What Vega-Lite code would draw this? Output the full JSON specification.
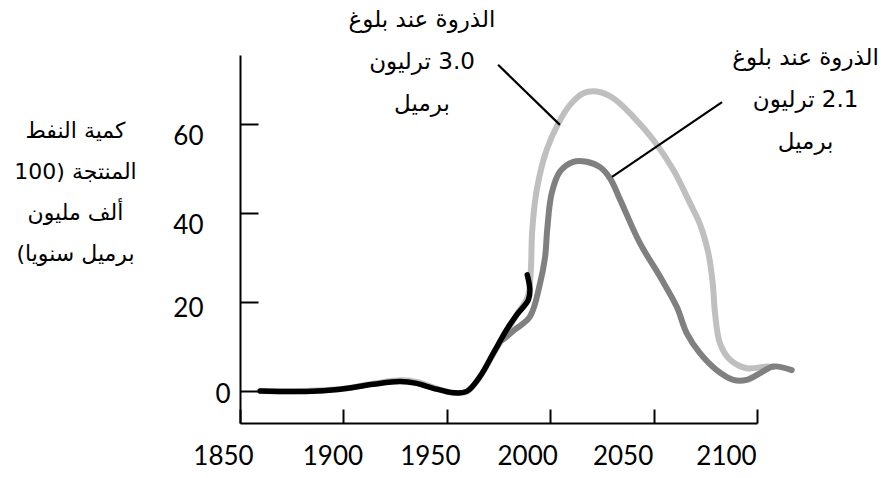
{
  "$schema": "https://vega.github.io/schema/vega-lite/v6.json",
  "width": 517,
  "height": 368,
  "padding": {"left": 240, "top": 55, "right": 126, "bottom": 55},
  "autosize": {"type": "none"},
  "background": "white",
  "config": {"view": {"stroke": null}},
  "datasets": {
    "curves": [
      {"series": "3.0", "i": 1, "year": 1860, "value": 0},
      {"series": "3.0", "i": 2, "year": 1880, "value": 0},
      {"series": "3.0", "i": 3, "year": 1900, "value": 0.5},
      {"series": "3.0", "i": 4, "year": 1915, "value": 1.7},
      {"series": "3.0", "i": 5, "year": 1928, "value": 2.4},
      {"series": "3.0", "i": 6, "year": 1936, "value": 2.0},
      {"series": "3.0", "i": 7, "year": 1944, "value": 0.7},
      {"series": "3.0", "i": 8, "year": 1953, "value": -0.4},
      {"series": "3.0", "i": 9, "year": 1960, "value": -0.1},
      {"series": "3.0", "i": 10, "year": 1966, "value": 3.2},
      {"series": "3.0", "i": 11, "year": 1973, "value": 8.7},
      {"series": "3.0", "i": 12, "year": 1979, "value": 13.3},
      {"series": "3.0", "i": 13, "year": 1984, "value": 17.3},
      {"series": "3.0", "i": 14, "year": 1989, "value": 21},
      {"series": "3.0", "i": 15, "year": 1990.6, "value": 27},
      {"series": "3.0", "i": 16, "year": 1991.3, "value": 36},
      {"series": "3.0", "i": 17, "year": 1993.5, "value": 45.2},
      {"series": "3.0", "i": 18, "year": 1998.3, "value": 54.2},
      {"series": "3.0", "i": 19, "year": 2004, "value": 60.2},
      {"series": "3.0", "i": 20, "year": 2009.6, "value": 64.3},
      {"series": "3.0", "i": 21, "year": 2016, "value": 66.9},
      {"series": "3.0", "i": 22, "year": 2022.5, "value": 67.3},
      {"series": "3.0", "i": 23, "year": 2030.5, "value": 65.8},
      {"series": "3.0", "i": 24, "year": 2040.2, "value": 61.6},
      {"series": "3.0", "i": 25, "year": 2049.9, "value": 56.4},
      {"series": "3.0", "i": 26, "year": 2059.5, "value": 49.7},
      {"series": "3.0", "i": 27, "year": 2067.6, "value": 42.2},
      {"series": "3.0", "i": 28, "year": 2072.4, "value": 37.5},
      {"series": "3.0", "i": 29, "year": 2076.5, "value": 30.9},
      {"series": "3.0", "i": 30, "year": 2078.6, "value": 24.2},
      {"series": "3.0", "i": 31, "year": 2079.7, "value": 17.5},
      {"series": "3.0", "i": 32, "year": 2082.1, "value": 10.7},
      {"series": "3.0", "i": 33, "year": 2087, "value": 7},
      {"series": "3.0", "i": 34, "year": 2095, "value": 5.1},
      {"series": "3.0", "i": 35, "year": 2104.7, "value": 5.5},
      {"series": "3.0", "i": 36, "year": 2108, "value": 5.4},
      {"series": "2.1", "i": 1, "year": 1977, "value": 11.5},
      {"series": "2.1", "i": 2, "year": 1983, "value": 13.8},
      {"series": "2.1", "i": 3, "year": 1990.2, "value": 16.7},
      {"series": "2.1", "i": 4, "year": 1995.1, "value": 24.2},
      {"series": "2.1", "i": 5, "year": 1997.5, "value": 30},
      {"series": "2.1", "i": 6, "year": 1998.6, "value": 36.5},
      {"series": "2.1", "i": 7, "year": 2000.7, "value": 44.4},
      {"series": "2.1", "i": 8, "year": 2004.7, "value": 49.3},
      {"series": "2.1", "i": 9, "year": 2011.2, "value": 51.5},
      {"series": "2.1", "i": 10, "year": 2017.6, "value": 51.5},
      {"series": "2.1", "i": 11, "year": 2024.1, "value": 50.3},
      {"series": "2.1", "i": 12, "year": 2028.9, "value": 47.8},
      {"series": "2.1", "i": 13, "year": 2033.8, "value": 43},
      {"series": "2.1", "i": 14, "year": 2043.4, "value": 33.2},
      {"series": "2.1", "i": 15, "year": 2053.1, "value": 25.7},
      {"series": "2.1", "i": 16, "year": 2061.2, "value": 18.9},
      {"series": "2.1", "i": 17, "year": 2066, "value": 13},
      {"series": "2.1", "i": 18, "year": 2072.4, "value": 8.5},
      {"series": "2.1", "i": 19, "year": 2080.5, "value": 4.7},
      {"series": "2.1", "i": 20, "year": 2088.5, "value": 2.5},
      {"series": "2.1", "i": 21, "year": 2095, "value": 2.5},
      {"series": "2.1", "i": 22, "year": 2101.5, "value": 4},
      {"series": "2.1", "i": 23, "year": 2107.9, "value": 5.5},
      {"series": "2.1", "i": 24, "year": 2116.8, "value": 4.7}
    ],
    "history": [
      {"i": 1, "year": 1859.7, "value": 0},
      {"i": 2, "year": 1882, "value": -0.1},
      {"i": 3, "year": 1898.4, "value": 0.4},
      {"i": 4, "year": 1914.5, "value": 1.5},
      {"i": 5, "year": 1927.4, "value": 2.1},
      {"i": 6, "year": 1935.4, "value": 1.7},
      {"i": 7, "year": 1943.5, "value": 0.6},
      {"i": 8, "year": 1953.2, "value": -0.4},
      {"i": 9, "year": 1959.6, "value": -0.1},
      {"i": 10, "year": 1966, "value": 3.2},
      {"i": 11, "year": 1972.5, "value": 8.5},
      {"i": 12, "year": 1979, "value": 13.8},
      {"i": 13, "year": 1983.8, "value": 17.1},
      {"i": 14, "year": 1989.4, "value": 20.4},
      {"i": 15, "year": 1990.2, "value": 22.7},
      {"i": 16, "year": 1988.9, "value": 26.1}
    ],
    "leaders": [
      {"year": 1974.8, "value": 73.3, "year2": 2004.7, "value2": 59.8},
      {"year": 2083.1, "value": 64.9, "year2": 2029.9, "value2": 48.1}
    ],
    "notes": [
      {"year": 1938, "value": 83.4, "label": "\u200fالذروة عند بلوغ\u200f\n\u200f3.0 ترليون\u200f\n\u200fبرميل\u200f"},
      {"year": 2123.5, "value": 74.8, "label": "\u200fالذروة عند بلوغ\u200f\n\u200f2.1 ترليون\u200f\n\u200fبرميل\u200f"}
    ]
  },
  "layer": [
    {
      "data": {"name": "curves"},
      "mark": {"type": "line", "interpolate": "catmull-rom", "strokeWidth": 6, "strokeCap": "round", "strokeJoin": "round"},
      "encoding": {
        "x": {
          "field": "year", "type": "quantitative",
          "scale": {"domain": [1850, 2100], "nice": false, "zero": false},
          "axis": {
            "values": [1850, 1900, 1950, 2000, 2050, 2100],
            "format": "d",
            "title": null,
            "grid": false,
            "domainColor": "black",
            "domainWidth": 2,
            "tickColor": "black",
            "tickWidth": 2,
            "tickSize": -14,
            "labelFont": "Lato",
            "labelFontSize": 26,
            "labelColor": "black",
            "labelPadding": 34,
            "labelBaseline": "top",
            "labelFlush": false,
            "labelOverlap": false,
            "labelOffset": {"condition": [
              {"test": "datum.value >= 2050", "value": -31},
              {"test": "datum.value == 2000", "value": -23},
              {"test": "datum.value == 1900", "value": -11}
            ], "value": -17}
          }
        },
        "y": {
          "field": "value", "type": "quantitative",
          "scale": {"domain": [-7.2, 75.5], "nice": false, "zero": false},
          "axis": {
            "values": [0, 20, 40, 60],
            "title": ["\u200fكمية النفط\u200f", "\u200fالمنتجة (100\u200f", "\u200fألف مليون\u200f", "\u200fبرميل سنويا)\u200f"],
            "titleFont": "DejaVu Sans",
            "titleFontSize": 22,
            "titleFontWeight": "normal",
            "titleColor": "black",
            "titleAngle": 0,
            "titleAlign": "center",
            "titleBaseline": "alphabetic",
            "titleLineHeight": 41,
            "titleX": -165,
            "titleY": 82,
            "grid": false,
            "domainColor": "black",
            "domainWidth": 2,
            "tickColor": "black",
            "tickWidth": 2,
            "tickSize": -18,
            "labelFont": "Lato",
            "labelFontSize": 26,
            "labelColor": "black",
            "labelFlush": false,
            "labelOverlap": false,
            "labelPadding": {"condition": {"test": "datum.value == 0", "value": 28}, "value": 55},
            "labelOffset": {"condition": [
              {"test": "datum.value >= 40", "value": 12.5},
              {"test": "datum.value == 20", "value": 7}
            ], "value": 4}
          }
        },
        "order": {"field": "i", "type": "quantitative"},
        "color": {
          "field": "series", "type": "nominal",
          "scale": {"domain": ["3.0", "2.1"], "range": ["#bfbfbf", "#808080"]},
          "legend": null
        }
      }
    },
    {
      "data": {"name": "history"},
      "mark": {"type": "line", "interpolate": "catmull-rom", "strokeWidth": 5.5, "color": "black", "strokeCap": "round", "strokeJoin": "round"},
      "encoding": {
        "x": {"field": "year", "type": "quantitative"},
        "y": {"field": "value", "type": "quantitative"},
        "order": {"field": "i", "type": "quantitative"}
      }
    },
    {
      "data": {"name": "leaders"},
      "mark": {"type": "rule", "color": "black", "strokeWidth": 2.2},
      "encoding": {
        "x": {"field": "year", "type": "quantitative"},
        "y": {"field": "value", "type": "quantitative"},
        "x2": {"field": "year2"},
        "y2": {"field": "value2"}
      }
    },
    {
      "data": {"name": "notes"},
      "mark": {"type": "text", "font": "DejaVu Sans", "fontSize": 23, "lineHeight": 42, "align": "center", "baseline": "middle", "lineBreak": "\n", "color": "black"},
      "encoding": {
        "x": {"field": "year", "type": "quantitative"},
        "y": {"field": "value", "type": "quantitative"},
        "text": {"field": "label"}
      }
    }
  ]
}
